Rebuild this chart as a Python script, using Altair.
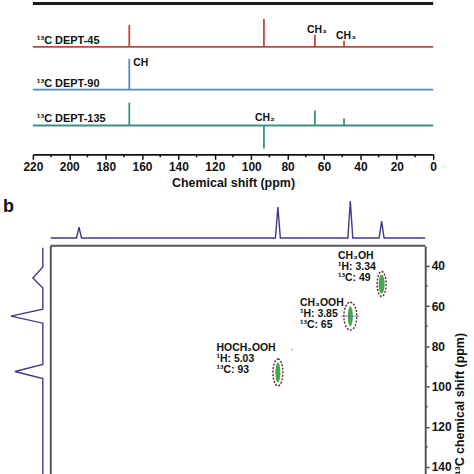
import altair as alt
import pandas as pd

FONT = "Liberation Sans"
INK = "#111111"
FRAME = "#555555"
PROJ = "#3d3a8c"

# ---------------- (a) 13C and DEPT spectra ----------------
trace_names = ["13C", "DEPT-45", "DEPT-90", "DEPT-135"]
trace_titles = ["", "¹³C DEPT-45", "¹³C DEPT-90", "¹³C DEPT-135"]
trace_offsets = [151.5, 108, 65, 29]          # stacking offset of each trace (a.u.)
trace_colors = ["#1a1a1a", "#c0453f", "#4f8cc9", "#3a9088"]

peak_trace = ["DEPT-45"] * 4 + ["DEPT-90"] + ["DEPT-135"] * 4
peak_ppm = [167, 93, 65, 49, 167, 167, 93, 65, 49]
peak_height = [22, 28, 12, 6, 31, 23, -23, 15, 7]
peak_group = ["", "", "CH₃", "CH₃", "CH", "", "CH₂", "", ""]

shift_major = list(range(0, 221, 20))
shift_minor = list(range(10, 220, 20))
SHIFT_LABEL_PPM = 217.8

# ---------------- (b) 1H-13C HSQC ----------------
compounds = ["CH₃OH", "CH₃OOH", "HOCH₂OOH"]
shift_1h = [3.34, 3.85, 5.03]
shift_13c = [49, 65, 93]
label_1h = [4.05, 4.67, 6.03]
label_13c = [32.6, 55.8, 78.6]

# 1D projections along each axis
proj_1h_ppm = [8.73, 8.31, 8.27, 8.23, 5.07, 5.03, 4.99, 3.89, 3.85, 3.81, 3.38, 3.34, 3.30, 2.63]
proj_1h_int = [0, 0, 11, 0, 0, 31, 0, 0, 37, 0, 0, 17, 0, 0]
proj_13c_ppm = [31, 40.5, 46, 51, 61.5, 65, 68.5, 89, 92.5, 96, 143.5]
proj_13c_int = [0, 0, 10, 0, 0, 32, 0, 0, 28, 0, 0]

stray_1h = [4.80]
stray_13c = [81.6]

H_DOMAIN = [8.73, 2.63]
C_DOMAIN = [30, 143.5]
c_major = list(range(40, 141, 20))
c_minor = list(range(50, 140, 20))

# contour outline / core size (width, height) in px for each cross-peak
OUTLINE = {"CH₃OH": (9, 25), "CH₃OOH": (13, 28), "HOCH₂OOH": (10, 27)}
CORE = {"CH₃OH": (6, 19), "CH₃OOH": (5, 20), "HOCH₂OOH": (5, 20)}


def ellipse_path(w, h):
    a = w / h
    k = 0.5523
    return (f"M0,-1 C{k*a:.4f},-1 {a:.4f},-{k} {a:.4f},0 "
            f"C{a:.4f},{k} {k*a:.4f},1 0,1 "
            f"C-{k*a:.4f},1 -{a:.4f},{k} -{a:.4f},0 "
            f"C-{a:.4f},-{k} -{k*a:.4f},-1 0,-1 Z")


# ======== panel (a) ========
offset_of = dict(zip(trace_names, trace_offsets))
traces = pd.DataFrame({"trace": trace_names, "title": trace_titles,
                       "offset": trace_offsets})
traces["start"] = 220
traces["end"] = 0
traces["label_ppm"] = SHIFT_LABEL_PPM

peaks = pd.DataFrame({"trace": peak_trace, "ppm": peak_ppm,
                      "height": peak_height, "group": peak_group})
peaks["base"] = peaks["trace"].map(offset_of)
peaks["tip"] = peaks["base"] + peaks["height"]

x_a = alt.Scale(domain=[220, 0], range=[32, 434], nice=False, zero=False)
y_a = alt.Scale(domain=[0, 153], nice=False, zero=False)
color_a = alt.Scale(domain=trace_names, range=trace_colors)

axis_a = alt.Axis(
    values=shift_major, tickSize=5,
    grid=False, labelFlush=False, labelOverlap=False,
    domainColor=INK, domainWidth=1.6, tickColor=INK, tickWidth=1.5,
    labelFont=FONT, labelFontSize=12, labelFontWeight="bold", labelColor=INK,
    labelPadding=2,
    title="Chemical shift (ppm)", titleFont=FONT, titleFontSize=12.5,
    titleFontWeight="bold", titleColor=INK, titlePadding=4,
)

tr = alt.Chart(traces)
baselines = tr.transform_filter("datum.trace !== '13C'").mark_rule(strokeWidth=1.8).encode(
    x=alt.X("start:Q", scale=x_a, axis=axis_a),
    x2="end:Q",
    y=alt.Y("offset:Q", scale=y_a, axis=None),
    color=alt.Color("trace:N", scale=color_a, legend=None),
)
top_trace = tr.transform_filter("datum.trace === '13C'").mark_rule(strokeWidth=3).encode(
    x=alt.X("start:Q", scale=x_a),
    x2="end:Q",
    y=alt.Y("offset:Q", scale=y_a, axis=None),
    color=alt.Color("trace:N", scale=color_a, legend=None),
)
trace_text = tr.transform_filter("datum.title !== ''").mark_text(
    align="left", baseline="alphabetic", dy=-3, font=FONT, fontSize=11,
    fontWeight="bold", color=INK,
).encode(
    x=alt.X("label_ppm:Q", scale=x_a),
    y=alt.Y("offset:Q", scale=y_a, axis=None),
    text="title:N",
)

# minor ticks between the labelled ones, hanging 3 units below the axis line
minor_a = alt.Chart(pd.DataFrame({"ppm": shift_minor, "y0": 0, "y1": -3})).mark_rule(
    color=INK, strokeWidth=1.5
).encode(
    x=alt.X("ppm:Q", scale=x_a),
    y=alt.Y("y0:Q", scale=y_a, axis=None), y2="y1:Q",
)

pk = alt.Chart(peaks)
peak_rules = pk.mark_rule(strokeWidth=1.8).encode(
    x=alt.X("ppm:Q", scale=x_a),
    y=alt.Y("base:Q", scale=y_a, axis=None),
    y2="tip:Q",
    color=alt.Color("trace:N", scale=color_a, legend=None),
)
txt_style = dict(font=FONT, fontSize=10.5, fontWeight="bold", color=INK)
ch3_text = pk.transform_filter("datum.group === 'CH₃'").mark_text(
    align="center", baseline="alphabetic", dx=2, dy=-2, **txt_style
).encode(x=alt.X("ppm:Q", scale=x_a),
         y=alt.Y("tip:Q", scale=y_a, axis=None), text="group:N")
ch_text = pk.transform_filter("datum.group === 'CH'").mark_text(
    align="left", baseline="middle", dx=4, dy=4, **txt_style
).encode(x=alt.X("ppm:Q", scale=x_a),
         y=alt.Y("tip:Q", scale=y_a, axis=None), text="group:N")
ch2_text = pk.transform_filter("datum.group === 'CH₂'").mark_text(
    align="center", baseline="alphabetic", dx=1, dy=-5, **txt_style
).encode(x=alt.X("ppm:Q", scale=x_a),
         y=alt.Y("base:Q", scale=y_a, axis=None), text="group:N")

panel_a = alt.layer(
    baselines, top_trace, peak_rules, minor_a, trace_text, ch3_text, ch_text, ch2_text
).properties(width=474, height=153)

# ======== panel (b) ========
h_scale = alt.Scale(domain=H_DOMAIN, range=[50, 426], nice=False, zero=False)
c_scale = alt.Scale(domain=C_DOMAIN, range=[91.8, 321], nice=False, zero=False)

axis_c = alt.Axis(
    orient="right", values=c_major, tickSize=4,
    grid=False, labelFlush=False, labelOverlap=False,
    domainColor=FRAME, domainWidth=2, tickColor=FRAME, tickWidth=1.5,
    labelFont=FONT, labelFontSize=12, labelFontWeight="bold", labelColor=INK,
    labelPadding=2,
    title="¹³C chemical shift (ppm)", titleFont=FONT, titleFontSize=12.5,
    titleFontWeight="bold", titleColor=INK, titleAngle=270,
    titleAlign="center", titleBaseline="middle", titleX=34, titleY=250,
)

frame = pd.DataFrame({"h0": [H_DOMAIN[0]], "h1": [H_DOMAIN[1]],
                      "c0": [C_DOMAIN[0]], "c1": [C_DOMAIN[1]]})
top_edge = alt.Chart(frame).mark_rule(color=FRAME, strokeWidth=2).encode(
    x=alt.X("h0:Q", scale=h_scale, axis=None), x2="h1:Q",
    y=alt.Y("c0:Q", scale=c_scale, axis=axis_c),
)
left_edge = alt.Chart(frame).mark_rule(color=FRAME, strokeWidth=2).encode(
    x=alt.X("h0:Q", scale=h_scale, axis=None),
    y=alt.Y("c0:Q", scale=c_scale), y2="c1:Q",
)
# short minor ticks on the right-hand 13C axis
minor_c = alt.Chart(pd.DataFrame({"c": c_minor, "h0": H_DOMAIN[1], "h1": H_DOMAIN[1] - 0.04})).mark_rule(
    color=FRAME, strokeWidth=1.5
).encode(
    x=alt.X("h0:Q", scale=h_scale, axis=None), x2="h1:Q",
    y=alt.Y("c:Q", scale=c_scale),
)

cross = pd.DataFrame({"name": compounds, "h": shift_1h, "c": shift_13c,
                      "lh": label_1h, "lc": label_13c})
cross["label"] = [f"{n}\n¹H: {h:.2f}\n¹³C: {c}" for n, h, c in
                  zip(compounds, shift_1h, shift_13c)]
cross["outline_shape"] = [ellipse_path(*OUTLINE[n]) for n in compounds]
cross["outline_size"] = [OUTLINE[n][1] ** 2 for n in compounds]
cross["core_shape"] = [ellipse_path(*CORE[n]) for n in compounds]
cross["core_size"] = [CORE[n][1] ** 2 for n in compounds]

cx = alt.Chart(cross)
core = cx.mark_point(filled=True, color="#45a84d", opacity=1).encode(
    x=alt.X("h:Q", scale=h_scale, axis=None),
    y=alt.Y("c:Q", scale=c_scale),
    shape=alt.Shape("core_shape:N", scale=None),
    size=alt.Size("core_size:Q", scale=None),
)
outline = cx.mark_point(filled=False, color="#6b1f1f", strokeWidth=1.4,
                        opacity=1, strokeDash=[2, 1.5]).encode(
    x=alt.X("h:Q", scale=h_scale, axis=None),
    y=alt.Y("c:Q", scale=c_scale),
    shape=alt.Shape("outline_shape:N", scale=None),
    size=alt.Size("outline_size:Q", scale=None),
)
slice_1h = cx.transform_filter("datum.name === 'CH₃OOH'").mark_point(
    shape="M-1,0L1,0", size=324, color="#6a63b8", strokeWidth=1, opacity=0.8
).encode(x=alt.X("h:Q", scale=h_scale, axis=None),
         y=alt.Y("c:Q", scale=c_scale))
labels = cx.mark_text(align="left", baseline="top", lineBreak="\n",
                      lineHeight=11, font=FONT, fontSize=10.5,
                      fontWeight="bold", color=INK).encode(
    x=alt.X("lh:Q", scale=h_scale, axis=None),
    y=alt.Y("lc:Q", scale=c_scale),
    text="label:N",
)
stray = alt.Chart(pd.DataFrame({"h": stray_1h, "c": stray_13c})).mark_point(
    filled=True, color="#8cc98f", size=5, opacity=0.8
).encode(x=alt.X("h:Q", scale=h_scale, axis=None),
         y=alt.Y("c:Q", scale=c_scale))

map2d = alt.layer(top_edge, left_edge, minor_c, core, outline, slice_1h, stray, labels)

top_proj = alt.Chart(pd.DataFrame({"ppm": proj_1h_ppm, "int": proj_1h_int})).mark_line(
    color=PROJ, strokeWidth=1.4
).encode(
    x=alt.X("ppm:Q", scale=h_scale, axis=None),
    y=alt.Y("int:Q", scale=alt.Scale(domain=[0, 40], range=[84, 44],
                                      nice=False, zero=False), axis=None),
)
left_proj = alt.Chart(pd.DataFrame({"ppm": proj_13c_ppm, "int": proj_13c_int})).mark_line(
    color=PROJ, strokeWidth=1.4
).encode(
    x=alt.X("int:Q", scale=alt.Scale(domain=[0, 40], range=[42, 2],
                                      nice=False, zero=False), axis=None),
    y=alt.Y("ppm:Q", scale=c_scale, axis=None),
    order="ppm:Q",
)
letter = alt.Chart(pd.DataFrame({"t": ["b"]})).mark_text(
    align="left", baseline="middle", font=FONT, fontSize=18,
    fontWeight="bold", color=INK,
).encode(text="t:N", x=alt.value(2), y=alt.value(53))

panel_b = alt.layer(top_proj, left_proj, letter, map2d).resolve_scale(
    x="independent", y="independent"
).properties(width=426, height=321)

chart = (
    alt.vconcat(panel_a, panel_b, spacing=0, bounds="flush")
    .properties(padding=0)
    .configure(font=FONT)
    .configure_view(stroke="transparent")
)

chart.save("out.html", embed_options={"renderer": "svg", "actions": False})
